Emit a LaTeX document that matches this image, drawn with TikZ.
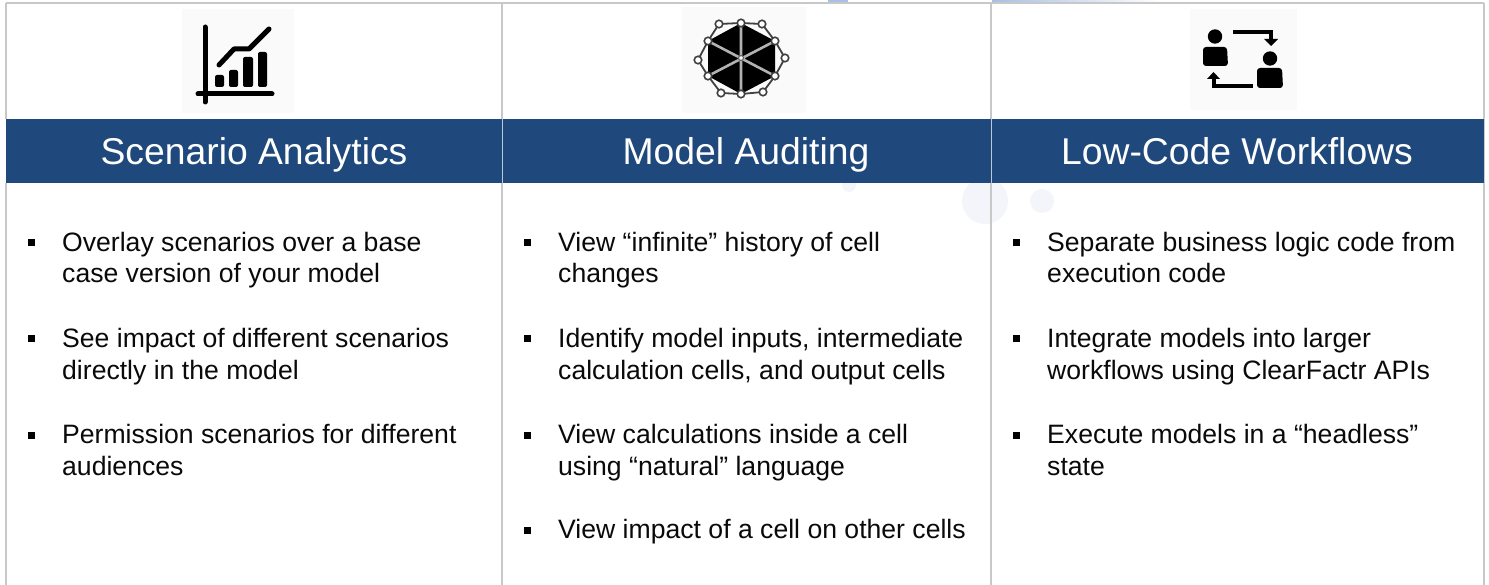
\documentclass[tikz,border=0pt]{standalone}
\usepackage{fontspec}
\setmainfont{Liberation Sans}
\definecolor{band}{HTML}{1F497D}
\definecolor{rule}{HTML}{C8C8C8}
\definecolor{ghost}{HTML}{F3F5FA}
\definecolor{iconbg}{HTML}{FAFAFA}
\definecolor{ink}{HTML}{0A0A0A}
\definecolor{smear}{HTML}{A9BFE3}
\tikzset{
  x=1pt,y=-1pt,
  grid/.style={draw=rule,line width=1.6pt},
  title/.style={text=white,font=\fontsize{37.3}{40}\selectfont,anchor=base,inner sep=0pt},
  item/.style={anchor=base west,inner sep=0pt,align=left,text=ink,font=\fontsize{26.6}{31.7}\selectfont},
  bul/.style={fill=black,minimum size=7pt,inner sep=0pt,draw=none,rectangle},
  iconline/.style={draw=black,line width=5pt,line cap=round,line join=round},
  bar/.style={fill=black,rounded corners=2pt,draw=none},
  web/.style={draw=black!75,line width=1.8pt},
  dot/.style={circle,draw=black!75,line width=1.6pt,fill=white,minimum size=7.5pt,inner sep=0pt},
  hub/.style={draw=black!30,line width=2.6pt},
}
% #3 = baseline of the first line, #4 = baseline of the last line
\newcommand{\bulitem}[5]{%
  \node[bul] (b#1) at (#2+4.5,#3-8) {};
  \node[item] (t#1) at (#2+35,#4) {#5};
}
\begin{document}
\begin{tikzpicture}
\useasboundingbox (0,0) rectangle (1489,585);
\fill[white] (0,0) rectangle (1489,585);
% faint background marks
\fill[ghost] (985,201) circle (23);
\fill[ghost] (1042,201) circle (12);
\fill[ghost] (849,185) circle (7);
% clipped artefact above the top rule
\fill[smear] (828,0) rectangle (848,2);
\shade[left color=smear,right color=white] (992,0) rectangle (1160,2);
% grid
\draw[grid] (6,3) -- (1484,3);
\draw[grid] (6,3) -- (6,119);
\draw[grid] (502,3) -- (502,585);
\draw[grid] (991,3) -- (991,585);
\draw[grid] (1484,3) -- (1484,585);
\draw[grid] (6,183) -- (6,585);
% header band
\fill[band] (6,119) rectangle (1484,183);
\draw[white!70!band,line width=1pt] (502,119) -- (502,183) (991,119) -- (991,183);
\node[title] (h1) at (254,165) {Scenario Analytics};
\node[title] (h2) at (746,165) {Model Auditing};
\node[title] (h3) at (1237,165) {Low-Code Workflows};
% icon 1
\fill[iconbg] (182,9) rectangle (294,113);
\draw[iconline] (205,27) -- (205,102);
\draw[iconline] (198,94) -- (272,94);
\draw[iconline] (219,65) -- (234,49) -- (249,49) -- (269,29);
\fill[bar] (215,75) rectangle (224,87);
\fill[bar] (229,70) rectangle (238,87);
\fill[bar] (243,57) rectangle (253,87);
\fill[bar] (258,52) rectangle (267,87);
% icon 2
\fill[iconbg] (682,7) rectangle (806,113);
\fill[black] (741,23) -- (775,41) -- (775,76) -- (741,94) -- (708,76) -- (708,41) -- cycle;
\draw[hub] (741,23) -- (741,94) (708,41) -- (775,76) (708,76) -- (775,41);
\draw[web] (719,24) -- (741,23) -- (762,24) -- (775,41) -- (785,58) -- (775,76) -- (763,92) -- (741,94) -- (721,93) -- (708,76) -- (698,60) -- (708,41) -- (719,24);
\foreach \p in {(719,24),(741,23),(762,24),(708,41),(775,41),(698,60),(785,58),(708,76),(775,76),(721,93),(741,94),(763,92)}
  \node[dot] at \p {};
\node[circle,draw=black!60,line width=1.2pt,fill=white,minimum size=5pt,inner sep=0pt] at (741,58) {};
% icon 3
\fill[iconbg] (1190,9) rectangle (1297,110);
\fill[black] (1215,36.5) circle (7.2);
\fill[black,rounded corners=3pt] (1203,66) -- (1203,47) -- (1227,47) -- (1228,66) -- cycle;
\fill[black] (1270,58.5) circle (7.2);
\fill[black,rounded corners=3pt] (1257,88) -- (1257,68) -- (1282,68) -- (1283,88) -- cycle;
\draw[draw=black,line width=4pt] (1233,32) -- (1271,32) -- (1271,40);
\fill[black] (1264,39) -- (1278,39) -- (1271,46) -- cycle;
\draw[draw=black,line width=4pt] (1253,86) -- (1213.5,86) -- (1213.5,78);
\fill[black] (1207,79) -- (1220,79) -- (1213.5,72) -- cycle;
% column 1
\bulitem{a1}{27}{251}{283}{Overlay scenarios over a base\\case version of your model}
\bulitem{a2}{27}{347}{379}{See impact of different scenarios\\directly in the model}
\bulitem{a3}{27}{443}{475}{Permission scenarios for different\\audiences}
% column 2
\bulitem{b1}{523}{251}{283}{View “infinite” history of cell\\changes}
\bulitem{b2}{523}{347}{379}{Identify model inputs, intermediate\\calculation cells, and output cells}
\bulitem{b3}{523}{443}{475}{View calculations inside a cell\\using “natural” language}
\bulitem{b4}{523}{538}{538}{View impact of a cell on other cells}
% column 3
\bulitem{c1}{1012}{251}{283}{Separate business logic code from\\execution code}
\bulitem{c2}{1012}{347}{379}{Integrate models into larger\\workflows using ClearFactr APIs}
\bulitem{c3}{1012}{443}{475}{Execute models in a “headless”\\state}
\end{tikzpicture}
\end{document}
